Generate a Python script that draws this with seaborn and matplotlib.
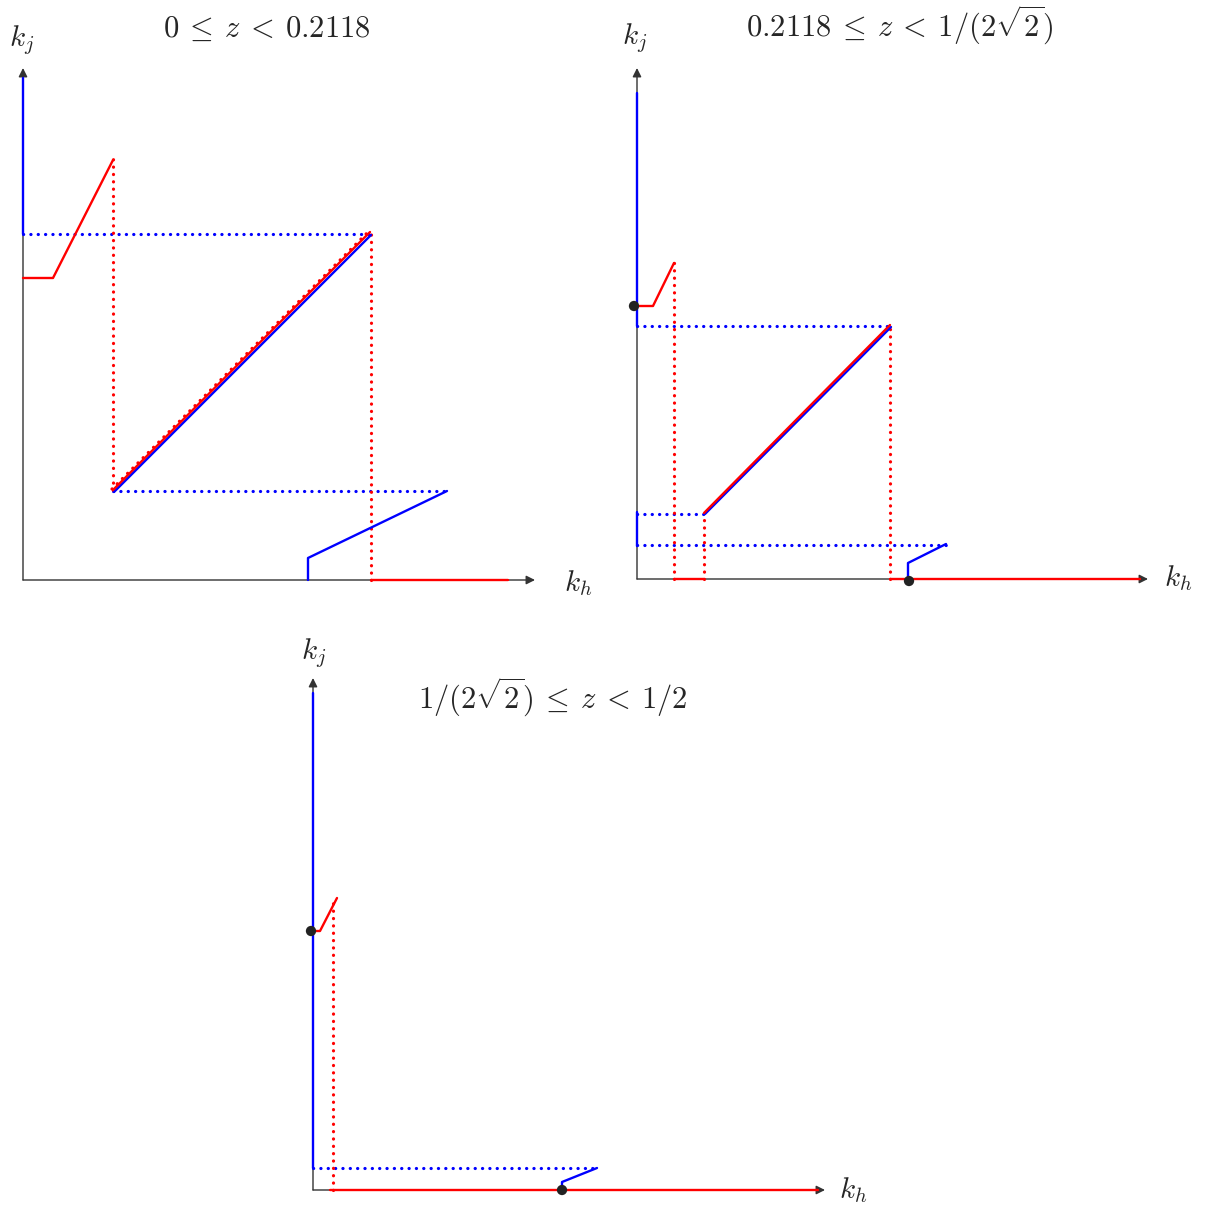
import matplotlib
matplotlib.use("Agg")
import matplotlib.pyplot as plt
import seaborn as sns

sns.set_style("white")
plt.rcParams["mathtext.fontset"] = "cm"
plt.rcParams["font.family"] = ["DejaVu Serif"]

# coordinates are read off the picture, measured from each panel's origin
# panel 1: 0 <= z < 0.2118
p1_title = r"$0\:\leq\:z\:<\:0.2118$"
p1_red = [[(0, 302), (30, 302), (90, 420)],
          [(90, 90), (347, 348)],
          [(348, 0), (485, 0)]]
p1_blue = [[(0, 346), (0, 502)],
           [(91, 88), (348, 345)],
           [(285, 0), (285, 22), (424, 89)]]
p1_red_dot = [[(90, 90), (90, 423)],
              [(348, 0), (348, 346)],
              [(89, 91), (346, 349)]]
p1_blue_dot = [[(0, 346), (347, 346)],
               [(90, 89), (424, 89)]]
p1_points = []

# panel 2: 0.2118 <= z < 1/(2 sqrt 2)
p2_title = r"$0.2118\:\leq\:z\:<\:1/(2\sqrt{2})$"
p2_red = [[(0, 273), (16, 273), (37, 316)],
          [(67, 66), (253, 254)],
          [(37, 0), (67, 0)],
          [(253, 0), (503, 0)]]
p2_blue = [[(0, 253), (0, 486)],
           [(68, 65), (254, 252)],
           [(0, 33), (0, 67)],
           [(271, 0), (271, 16), (309, 35)]]
p2_red_dot = [[(37, 0), (37, 319)],
              [(253, 0), (253, 253)],
              [(67, 0), (67, 65)]]
p2_blue_dot = [[(0, 253), (253, 253)],
               [(0, 65), (67, 65)],
               [(0, 34), (309, 34)]]
p2_points = [(-3, 273), (272, -2)]

# panel 3: 1/(2 sqrt 2) <= z < 1/2
p3_title = r"$1/(2\sqrt{2})\:\leq\:z\:<\:1/2$"
p3_red = [[(0, 259), (7, 259), (24, 292)],
          [(17, 0), (505, 0)]]
p3_blue = [[(0, 22), (0, 497)],
           [(249, 0), (249, 8), (284, 22)]]
p3_red_dot = [[(20, 0), (20, 292)]]
p3_blue_dot = [[(0, 22), (284, 22)]]
p3_points = [(-2, 259), (249, 0)]

# panel placement (origin in figure pixels) and label spots
W, H = 1215, 1205
panels = [
    dict(origin=(23, 580), title=p1_title, title_xy=(244, 552),
         red=p1_red, blue=p1_blue, red_dot=p1_red_dot, blue_dot=p1_blue_dot,
         points=p1_points, kj=(-1, 540), kh=(555, -3), xend=512, yend=512),
    dict(origin=(637, 579), title=p2_title, title_xy=(263, 554),
         red=p2_red, blue=p2_blue, red_dot=p2_red_dot, blue_dot=p2_blue_dot,
         points=p2_points, kj=(-2, 541), kh=(541, 1), xend=511, yend=511),
    dict(origin=(313, 1190), title=p3_title, title_xy=(240, 493),
         red=p3_red, blue=p3_blue, red_dot=p3_red_dot, blue_dot=p3_blue_dot,
         points=p3_points, kj=(1, 537), kh=(540, 0), xend=512, yend=512),
]

fig = plt.figure(figsize=(W / 100, H / 100), dpi=100)
dots = (0, (0.05, 2.25))


def draw(ax, segs, color, ls=None):
    for seg in segs:
        xs = [p[0] for p in seg]
        ys = [p[1] for p in seg]
        sns.lineplot(x=xs, y=ys, sort=False, estimator=None, color=color,
                     lw=1.7, ax=ax, zorder=3)
        line = ax.lines[-1]
        if ls is not None:
            line.set_linestyle(ls)
            line.set_dash_capstyle("round")
            line.set_linewidth(2.3)


for p in panels:
    ox, oy = p["origin"]
    ax = fig.add_axes([0, 0, 1, 1])
    ax.patch.set_alpha(0)
    ax.set_xlim(-ox, W - ox)
    ax.set_ylim(oy - H, oy)
    ax.axis("off")

    # coordinate axes with arrow heads
    arrow = dict(arrowstyle="-|>", color="#333333", lw=1.0,
                 mutation_scale=13, shrinkA=0, shrinkB=0)
    ax.annotate("", xy=(p["xend"], 0), xytext=(0, 0), arrowprops=arrow, zorder=1)
    ax.annotate("", xy=(0, p["yend"]), xytext=(0, 0), arrowprops=arrow, zorder=1)

    draw(ax, p["blue_dot"], "blue", dots)
    draw(ax, p["red_dot"], "red", dots)
    draw(ax, p["blue"], "blue")
    draw(ax, p["red"], "red")

    if p["points"]:
        sns.scatterplot(x=[q[0] for q in p["points"]], y=[q[1] for q in p["points"]],
                        color="#222222", s=55, edgecolor="none", ax=ax, zorder=5)

    ax.text(*p["kj"], r"$k_j$", fontsize=21, ha="center", va="center")
    ax.text(*p["kh"], r"$k_h$", fontsize=21, ha="center", va="center")
    ax.text(*p["title_xy"], p["title"], fontsize=22, ha="center", va="center")

fig.savefig("out.png", dpi=100)
